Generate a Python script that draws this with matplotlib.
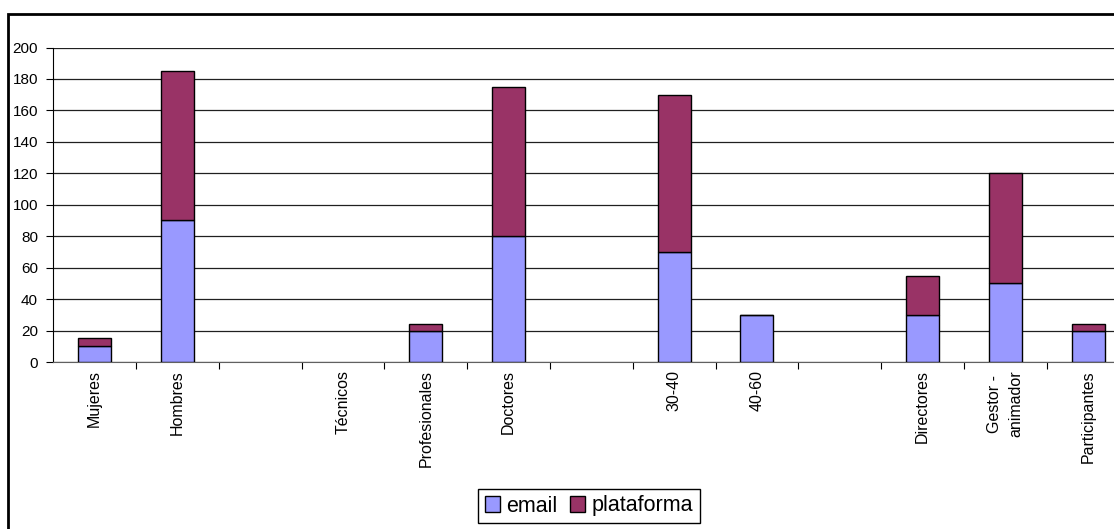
import numpy as np
import matplotlib
matplotlib.use('Agg')
import matplotlib.pyplot as plt
from matplotlib.patches import Rectangle

plt.rcParams['font.family'] = ['Liberation Sans', 'DejaVu Sans']

categories = ['Mujeres', 'Hombres', '', 'Técnicos', 'Profesionales', 'Doctores', '',
              '30-40', '40-60', '', 'Directores', 'Gestor -\nanimador', 'Participantes']
email = [10, 90, 0, 0, 20, 80, 0, 70, 30, 0, 30, 50, 20]
plataforma = [5, 95, 0, 0, 4, 95, 0, 100, 0, 0, 25, 70, 4]

W, H = 1114, 529
fig = plt.figure(figsize=(W / 100, H / 100), dpi=100)

# outer chart frame (cut off at right and bottom like the original)
fig.patches.append(Rectangle((8 / W, -0.1), 1.2, 1 - 14 / H + 0.1, transform=fig.transFigure,
                             fill=False, edgecolor='black', linewidth=2, zorder=0))

left, right = 53.2, 1129.5
top, bottom = 47.5, 362
ax = fig.add_axes([left / W, 1 - bottom / H, (right - left) / W, (bottom - top) / H])

ind = np.arange(len(categories))
width = 0.4
e = np.array(email, dtype=float)
p = np.array(plataforma, dtype=float)
# empty categories get no bar at all (Excel draws nothing there)
has = (e + p) > 0
p1 = ax.bar(ind[has], e[has], width, color='#9999FF', edgecolor='black', linewidth=1, zorder=3)
p2 = ax.bar(ind[has], p[has], width, bottom=e[has], color='#993366', edgecolor='black',
            linewidth=1, zorder=3)

ax.set_xlim(-0.5, len(categories) - 0.5)
ax.set_ylim(0, 200)
ax.set_yticks(np.arange(0, 201, 20))
ax.yaxis.grid(True, color='#202020', linewidth=0.9, zorder=0)
ax.set_axisbelow(True)

for s in ['top', 'right']:
    ax.spines[s].set_visible(False)
ax.spines['left'].set_color('black')
ax.spines['bottom'].set_color('#606060')

# category boundary ticks, labels at centers
ax.set_xticks(np.arange(len(categories) - 1) + 0.5)
ax.set_xticklabels([])
ax.set_xticks(ind, minor=True)
ax.set_xticklabels(categories, minor=True, rotation=90, va='top', ha='center',
                   fontsize=11.5, linespacing=1.5)
ax.tick_params(axis='x', which='major', direction='out', length=5, color='black')
ax.tick_params(axis='x', which='minor', length=0, pad=6)
ax.tick_params(axis='y', direction='out', length=5, labelsize=11, pad=6)

fig.legend((p1, p2), ('email', 'plataforma'), loc='center',
           bbox_to_anchor=(589 / W, 1 - 506 / H), ncol=2, fontsize=15.5,
           frameon=True, fancybox=False, edgecolor='black', framealpha=1,
           handlelength=0.7, handleheight=0.7, handletextpad=0.3,
           columnspacing=0.6, borderpad=0.3)

plt.savefig('out.png', dpi=100)
